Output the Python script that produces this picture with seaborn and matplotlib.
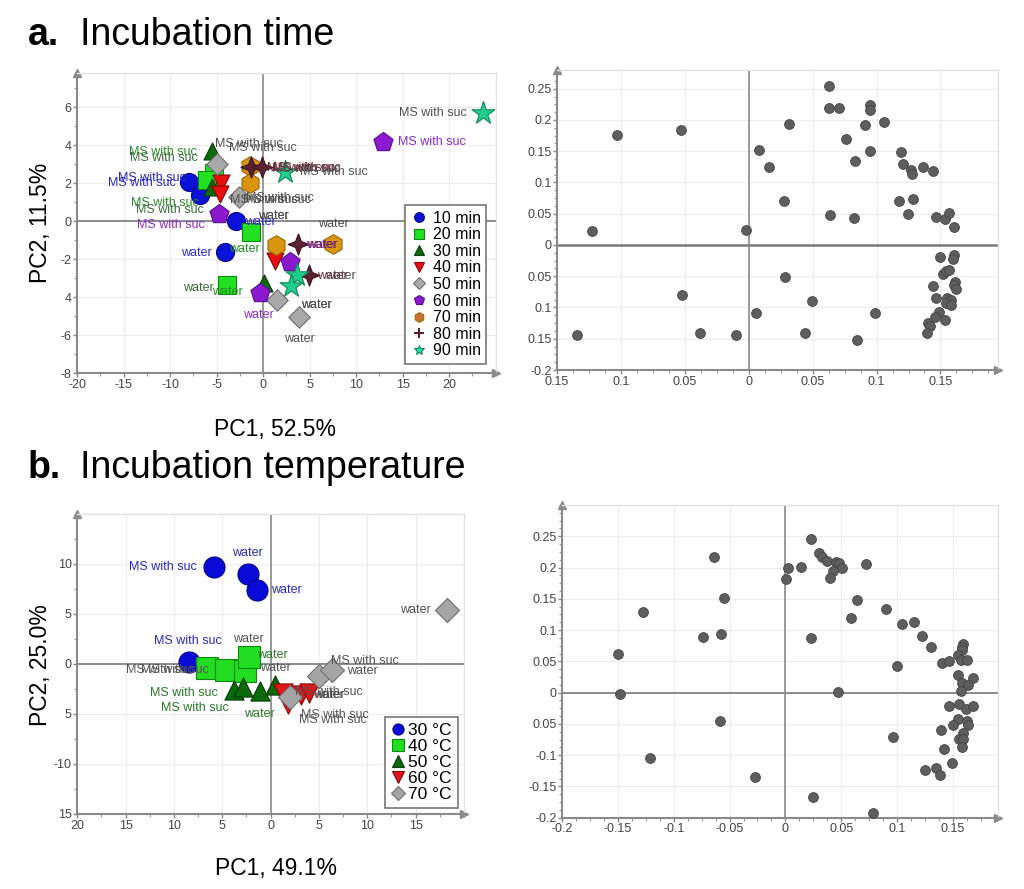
import numpy as np
import pandas as pd
import seaborn as sns
from matplotlib import pyplot as plt
from matplotlib.path import Path
from matplotlib.lines import Line2D
from matplotlib.ticker import AutoMinorLocator

sns.set_theme(style="white")
plt.rcParams['font.family'] = ['Liberation Sans', 'DejaVu Sans']

# ---- a. incubation time, scores ----
time_group = (["10 min"] * 4 + ["20 min"] * 4 + ["30 min"] * 3 + ["40 min"] * 3 +
              ["50 min"] * 4 + ["60 min"] * 4 + ["70 min"] * 4 + ["80 min"] * 4 +
              ["90 min"] * 4)
time_pc1 = [-7.96, -6.77, -2.94, -4.09,
            -5.3, -6.0, -1.33, -3.84,
            -5.52, -5.45, 0.1,
            -4.55, -4.62, 1.25,
            -4.98, -2.58, 1.47, 3.9,
            12.94, -4.73, 2.9, -0.36,
            -1.4, -1.4, 1.36, 7.56,
            -1.33, -0.07, 3.76, 4.95,
            23.7, 2.37, 3.62, 2.97]
time_pc2 = [2.08, 1.37, 0.02, -1.62,
            2.55, 2.15, -0.56, -3.38,
            3.71, 1.81, -3.26,
            1.99, 1.43, -2.1,
            2.99, 1.25, -4.17, -5.05,
            4.14, 0.37, -2.15, -3.79,
            2.92, 1.99, -1.27, -1.21,
            2.87, 2.83, -1.21, -2.85,
            5.69, 2.6, -2.85, -3.43]
time_text = ["MS with suc", "MS with suc", "water", "water",
             "MS with suc", "MS with suc", "water", "water",
             "MS with suc", "MS with suc", "water",
             "MS with suc", "MS with suc", "water",
             "MS with suc", "MS with suc", "water", "water",
             "MS with suc", "MS with suc", "water", "water",
             "MS with suc", "MS with suc", "water", "water",
             "MS with suc", "MS with suc", "water", "water",
             "MS with suc", "MS with suc", "water", "water"]
time_levels = ["10 min", "20 min", "30 min", "40 min", "50 min",
               "60 min", "70 min", "80 min", "90 min"]

# ---- a. loadings ----
time_load_x = [0.0629, 0.0626, 0.0704, 0.0952, 0.0949, 0.1056, 0.0908, 0.0313,
               0.0764, 0.0952, 0.0832, 0.1189, 0.1208, 0.1273, 0.1278, 0.1364,
               0.1442, 0.0078, 0.0156, 0.0276, 0.0636, 0.0824, 0.1176, 0.1286,
               0.1249, 0.1468, 0.1536, 0.1565, 0.1607, -0.0018, -0.1223, -0.1028,
               -0.0529, 0.1494, 0.1604, 0.1599, 0.152, 0.1547, 0.1565, 0.1442,
               0.1612, 0.1607, 0.162, 0.1468, 0.1555, 0.1586, 0.1547, 0.1586,
               0.1489, 0.1455, 0.1534, 0.1403, 0.1416, 0.1395, 0.0287, 0.0493,
               0.0055, 0.0989, 0.0438, 0.085, -0.0519, -0.0383, -0.0102, -0.1343]
time_load_y = [0.254, 0.219, 0.219, 0.2236, 0.2167, 0.197, 0.1926, 0.1937,
               0.1697, 0.15, 0.134, 0.1494, 0.13, 0.1206, 0.1137, 0.1249,
               0.119, 0.1526, 0.1254, 0.0699, 0.048, 0.0427, 0.0699, 0.0731,
               0.0491, 0.0454, 0.0422, 0.0512, 0.0293, 0.0245, 0.0224, 0.1766,
               0.1841, -0.0197, -0.0165, -0.0219, -0.0464, -0.0422, -0.0395, -0.0662,
               -0.0592, -0.0646, -0.07, -0.0843, -0.0843, -0.0875, -0.0928, -0.096,
               -0.1078, -0.1158, -0.1195, -0.1249, -0.1302, -0.1409, -0.0507, -0.0891,
               -0.1094, -0.1089, -0.1409, -0.152, -0.0806, -0.1403, -0.1441, -0.1446]

# ---- b. incubation temperature, scores ----
temp_group = ["30 °C"] * 4 + ["40 °C"] * 4 + ["50 °C"] * 4 + ["60 °C"] * 4 + ["70 °C"] * 4
temp_pc1 = [-5.9, -2.31, -1.38, -8.41,
            -6.62, -4.66, -2.66, -2.2,
            -3.79, -2.83, -1.1, 0.45,
            1.24, 1.83, 3.1, 4.0,
            18.2, 5.0, 6.31, 2.0]
temp_pc2 = [9.7, 9.0, 7.43, 0.2,
            -0.4, -0.63, -0.73, 0.7,
            -2.63, -2.33, -2.73, -2.13,
            -2.9, -3.97, -3.07, -2.9,
            5.43, -1.23, -0.57, -3.3]
temp_text = ["MS with suc", "water", "water", "MS with suc",
             "MS with suc", "MS with suc", "water", "water",
             "MS with suc", "MS with suc", "water", "water",
             "MS with suc", "MS with suc", "water", "MS with suc",
             "water", "water", "MS with suc", "water"]
temp_levels = ["30 °C", "40 °C", "50 °C", "60 °C", "70 °C"]

# ---- b. loadings ----
temp_load_x = [0.023, -0.0635, 0.0301, 0.0325, 0.037, 0.045, 0.0483, 0.051,
               0.043, 0.0403, 0.0027, 0.0137, 0.0003, 0.0722, 0.0638, 0.0588,
               0.0901, 0.1041, 0.1152, 0.122, 0.1304, 0.1399, 0.1462, 0.1587,
               0.1584, 0.1581, 0.1548, 0.1569, 0.1626, 0.1548, 0.1683, 0.1584,
               0.1632, 0.1572, -0.0546, -0.074, -0.0573, -0.1274, -0.1501, -0.1483,
               0.023, 0.0996, 0.0468, 0.1468, 0.1551, 0.1617, 0.1683, 0.1548,
               0.1623, 0.1638, 0.1498, 0.139, 0.1587, 0.1551, 0.1587, 0.1584,
               0.142, 0.1489, 0.125, 0.1348, 0.1384, 0.0967, -0.0585, -0.1214,
               -0.0271, 0.0251, 0.0782]
temp_load_y = [0.2463, 0.217, 0.2228, 0.2175, 0.2105, 0.2095, 0.2079, 0.1999,
               0.1946, 0.1839, 0.1994, 0.201, 0.1812, 0.2052, 0.1477, 0.1199,
               0.1343, 0.1103, 0.113, 0.0906, 0.0725, 0.0469, 0.0506, 0.0778,
               0.0725, 0.0682, 0.0608, 0.0517, 0.0522, 0.0277, 0.0229, 0.016,
               0.0123, 0.0027, 0.1519, 0.089, 0.0938, 0.1285, 0.0618, -0.0027,
               0.088, 0.0421, 0.0011, -0.0213, -0.0187, -0.0261, -0.0213, -0.0426,
               -0.0453, -0.0517, -0.0517, -0.0602, -0.065, -0.0746, -0.0746, -0.0864,
               -0.0906, -0.1119, -0.1237, -0.1199, -0.1317, -0.0704, -0.0453, -0.1039,
               -0.1349, -0.1668, -0.193]

# ---- styles ----
star4 = Path([(0, 1), (0.28, 0.28), (1, 0), (0.28, -0.28), (0, -1),
              (-0.28, -0.28), (-1, 0), (-0.28, 0.28), (0, 1)], closed=True)

time_style = {
    "10 min": dict(marker="o", s=170, fc="#0a12d8", ec="#06088a", tc="#2a2ac0"),
    "20 min": dict(marker="s", s=150, fc="#22e022", ec="#0c8a0c", tc="#2a8a2a"),
    "30 min": dict(marker="^", s=150, fc="#0b6b0b", ec="#063a06", tc="#3a6a3a"),
    "40 min": dict(marker="v", s=150, fc="#e81010", ec="#8a0606", tc="#555555"),
    "50 min": dict(marker="D", s=120, fc="#a8a8a8", ec="#707070", tc="#505050"),
    "60 min": dict(marker="p", s=210, fc="#8c18d0", ec="#55108a", tc="#8a2ad0"),
    "70 min": dict(marker="h", s=200, fc="#d99410", ec="#9a6a0a", tc="#505050"),
    "80 min": dict(marker=star4, s=230, fc="#5c2233", ec="#3a1420", tc="#6a2a3a"),
    "90 min": dict(marker="*", s=300, fc="#22cc8c", ec="#108a5a", tc="#505050"),
}
time_legend_marker = {"10 min": "o", "20 min": "s", "30 min": "^", "40 min": "v",
                      "50 min": "D", "60 min": "p", "70 min": "h", "80 min": "+",
                      "90 min": "*"}
time_legend_color = {"70 min": "#c8742e", "90 min": "#2ae0b0"}

temp_style = {
    "30 °C": dict(marker="o", s=230, fc="#0a0ad8", ec="#06068a", tc="#2a2ac0"),
    "40 °C": dict(marker="s", s=230, fc="#22dd22", ec="#0c8a0c", tc="#555555"),
    "50 °C": dict(marker="^", s=190, fc="#0a6a0a", ec="#063a06", tc="#2a7a2a"),
    "60 °C": dict(marker="v", s=190, fc="#e01515", ec="#8a0606", tc="#555555"),
    "70 °C": dict(marker="D", s=150, fc="#a5a5a5", ec="#707070", tc="#505050"),
}

# label offsets in pixels
time_offsets = [(-47, -1), (-48, 17), (25, -1), (-29, -1),
                (-51, 21), (-42, -23), (-6, -17), (0, -7),
                (-48, -7), (-42, -23), (-66, -5),
                (42, 35), (57, -6), (-1, 45),
                (32, 20), (25, -3), (40, -5), (0, -22),
                (49, 0), (-48, -11), (31, 17), (-1, -22),
                (56, -3), (30, -15), (-2, 29), (0, 20),
                (50, -1), (45, -1), (24, -1), (23, -1),
                (-51, 0), (49, 0), (44, -1), (26, -19)]
temp_offsets = [(-51, 0), (-1, 21), (29, 0), (-1, 21),
                (-47, -2), (-51, 0), (30, 3), (-1, 18),
                (-50, -3), (-48, -21), (-1, -23), (-3, 30),
                (46, 1), (47, -11), (29, 0), (24, -27),
                (-31, 0), (43, 5), (33, 9), (38, 2)]

time_df = pd.DataFrame({"group": time_group, "pc1": time_pc1, "pc2": time_pc2, "text": time_text})
temp_df = pd.DataFrame({"group": temp_group, "pc1": temp_pc1, "pc2": temp_pc2, "text": temp_text})
time_load = pd.DataFrame({"p1": time_load_x, "p2": time_load_y})
temp_load = pd.DataFrame({"p1": temp_load_x, "p2": temp_load_y})

fig = plt.figure(figsize=(10.24, 8.89), dpi=100)
ax_a = fig.add_axes([0.0752, 0.5804, 0.4087, 0.3375])
ax_al = fig.add_axes([0.5439, 0.5838, 0.4307, 0.3375])
ax_b = fig.add_axes([0.0755, 0.0844, 0.3776, 0.3375])
ax_bl = fig.add_axes([0.5488, 0.0802, 0.4255, 0.3517])


def style_axes(ax, xlim, ylim, xticks, xlabels, yticks, ylabels, minor, zero_lw=1.2):
    ax.set_xlim(xlim)
    ax.set_ylim(ylim)
    ax.set_xticks(xticks)
    ax.set_xticklabels(xlabels)
    ax.set_yticks(yticks)
    ax.set_yticklabels(ylabels)
    ax.xaxis.set_minor_locator(AutoMinorLocator(minor))
    ax.yaxis.set_minor_locator(AutoMinorLocator(minor))
    ax.tick_params(which="major", length=3, width=1, color="#888888",
                   labelsize=9, labelcolor="#444444", pad=1,
                   bottom=True, left=True)
    ax.tick_params(which="minor", length=2, width=0.8, color="#999999",
                   bottom=True, left=True)
    ax.grid(True, which="major", color="#ececec", lw=0.8)
    ax.set_axisbelow(True)
    for side in ["left", "bottom"]:
        ax.spines[side].set_color("#8a8a8a")
        ax.spines[side].set_linewidth(1.5)
    for side in ["top", "right"]:
        ax.spines[side].set_color("#e2e2e2")
        ax.spines[side].set_linewidth(1.0)
    ax.axhline(0, color="#7a7a7a", lw=zero_lw, zorder=1)
    ax.axvline(0, color="#8a8a8a", lw=1.2, zorder=1)
    ax.plot(0, 1, marker="^", ms=6, color="#8a8a8a", transform=ax.transAxes, clip_on=False)
    ax.plot(1, 0, marker=">", ms=6, color="#8a8a8a", transform=ax.transAxes, clip_on=False)
    ax.set_xlabel("")
    ax.set_ylabel("")


def draw_scores(ax, df, levels, styles, offsets):
    for g in levels:
        st = styles[g]
        sns.scatterplot(data=df[df["group"] == g], x="pc1", y="pc2", ax=ax,
                        marker=st["marker"], s=st["s"], color=st["fc"],
                        edgecolor=st["ec"], linewidth=0.8, legend=False, zorder=3)
    for i, row in df.iterrows():
        ax.annotate(row["text"], (row["pc1"], row["pc2"]), xytext=offsets[i],
                    textcoords="offset pixels", ha="center", va="center",
                    fontsize=9, color=styles[row["group"]]["tc"], zorder=4)


# a. scores
draw_scores(ax_a, time_df, time_levels, time_style, time_offsets)
style_axes(ax_a, (-20, 25), (-8, 7.8),
           [-20, -15, -10, -5, 0, 5, 10, 15, 20],
           ["-20", "-15", "-10", "-5", "0", "5", "10", "15", "20"],
           [-8, -6, -4, -2, 0, 2, 4, 6],
           ["-8", "-6", "4", "-2", "0", "2", "4", "6"], 2)
handles = []
for g in time_levels:
    st = time_style[g]
    m = time_legend_marker[g]
    c = time_legend_color.get(g, st["fc"])
    handles.append(Line2D([], [], ls="", marker=m, ms=7 if m != "D" else 6,
                          mfc=c, mec=st["ec"] if m != "+" else st["fc"],
                          mew=0.8 if m != "+" else 1.5, label=g))
leg = ax_a.legend(handles=handles, loc="lower right", bbox_to_anchor=(0.978, 0.03),
                  fontsize=11.5, labelspacing=0.1, handlelength=1.0, handletextpad=0.35,
                  borderpad=0.35, borderaxespad=0, fancybox=False, framealpha=1,
                  labelcolor="black")
leg.get_frame().set_edgecolor("#777777")
leg.get_frame().set_linewidth(1.2)
leg.set_zorder(6)

# a. loadings
sns.scatterplot(data=time_load, x="p1", y="p2", ax=ax_al, s=50, color="#5e5e5e",
                edgecolor="#444444", linewidth=0.6, legend=False, zorder=3)
style_axes(ax_al, (-0.15, 0.195), (-0.2, 0.28),
           [-0.15, -0.1, -0.05, 0, 0.05, 0.1, 0.15],
           ["0.15", "0.1", "0.05", "0", "0.05", "0.1", "0.15"],
           [-0.2, -0.15, -0.1, -0.05, 0, 0.05, 0.1, 0.15, 0.2, 0.25],
           ["-0.2", "0.15", "0.1", "0.05", "0", "0.05", "0.1", "0.15", "0.2", "0.25"],
           4, zero_lw=1.8)

# b. scores
draw_scores(ax_b, temp_df, temp_levels, temp_style, temp_offsets)
style_axes(ax_b, (-20, 20), (-15, 15),
           [-20, -15, -10, -5, 0, 5, 10, 15],
           ["20", "15", "10", "5", "0", "5", "10", "15"],
           [-15, -10, -5, 0, 5, 10],
           ["15", "-10", "5", "0", "5", "10"], 2)
handles = []
for g in temp_levels:
    st = temp_style[g]
    handles.append(Line2D([], [], ls="", marker=st["marker"],
                          ms=8 if st["marker"] != "D" else 7,
                          mfc=st["fc"], mec=st["ec"], mew=0.8, label=g))
leg = ax_b.legend(handles=handles, loc="lower right", bbox_to_anchor=(0.985, 0.02),
                  fontsize=12.5, labelspacing=0.05, handlelength=0.8, handletextpad=0.2,
                  borderpad=0.35, borderaxespad=0, fancybox=False, framealpha=1,
                  labelcolor="black")
leg.get_frame().set_edgecolor("#777777")
leg.get_frame().set_linewidth(1.2)
leg.set_zorder(6)

# b. loadings
sns.scatterplot(data=temp_load, x="p1", y="p2", ax=ax_bl, s=50, color="#5e5e5e",
                edgecolor="#444444", linewidth=0.6, legend=False, zorder=3)
style_axes(ax_bl, (-0.2, 0.19), (-0.2, 0.3),
           [-0.2, -0.15, -0.1, -0.05, 0, 0.05, 0.1, 0.15],
           ["-0.2", "-0.15", "-0.1", "-0.05", "0", "0.05", "0.1", "0.15"],
           [-0.2, -0.15, -0.1, -0.05, 0, 0.05, 0.1, 0.15, 0.2, 0.25],
           ["-0.2", "-0.15", "-0.1", "0.05", "0", "0.05", "0.1", "0.15", "0.2", "0.25"],
           4)

# titles and axis labels
fig.text(28 / 1024, 1 - 35 / 889, "a.", fontsize=27, fontweight="bold", va="center",
         color="black")
fig.text(80 / 1024, 1 - 35 / 889, "Incubation time", fontsize=27, va="center",
         color="black")
fig.text(28 / 1024, 1 - 468 / 889, "b.", fontsize=27, fontweight="bold", va="center",
         color="black")
fig.text(80 / 1024, 1 - 468 / 889, "Incubation temperature", fontsize=27, va="center",
         color="black")
fig.text(275 / 1024, 1 - 430 / 889, "PC1, 52.5%", fontsize=16.5, ha="center", va="center",
         color="black")
fig.text(276 / 1024, 1 - 868 / 889, "PC1, 49.1%", fontsize=16.5, ha="center", va="center",
         color="black")
fig.text(40 / 1024, 1 - 223 / 889, "PC2, 11.5%", fontsize=16.5, ha="center", va="center",
         rotation=90, color="black")
fig.text(40 / 1024, 1 - 665 / 889, "PC2, 25.0%", fontsize=16.5, ha="center", va="center",
         rotation=90, color="black")

fig.savefig("out.png", dpi=100)
